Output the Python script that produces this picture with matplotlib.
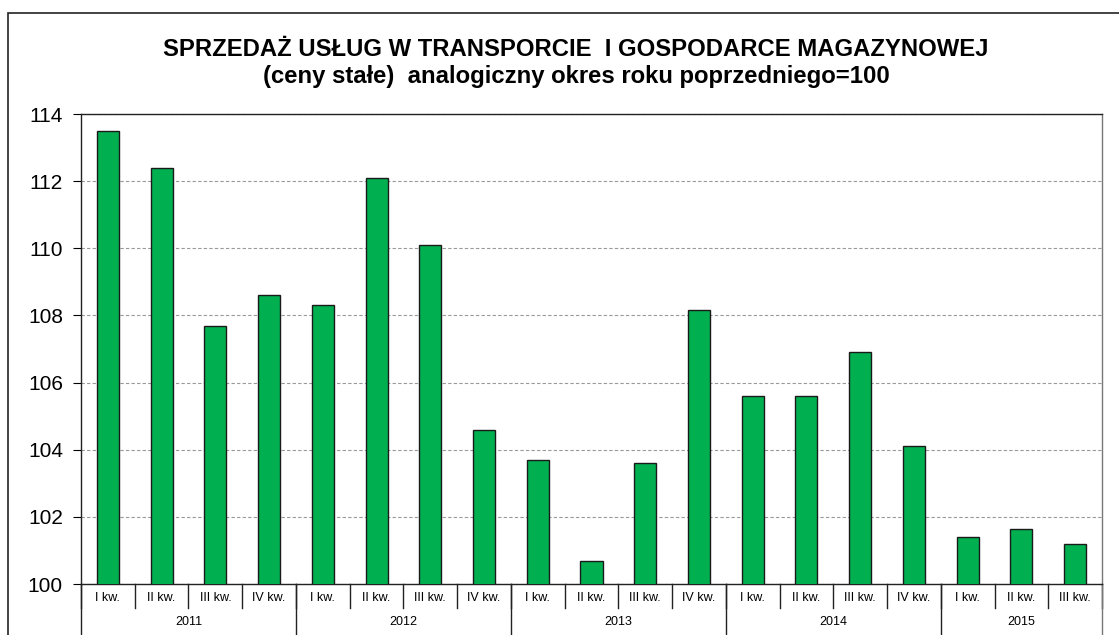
import matplotlib.pyplot as plt
import matplotlib.transforms as mtransforms
from matplotlib.patches import Rectangle

plt.rcParams['font.family'] = ['Liberation Sans', 'DejaVu Sans']

# data
years = ['2011', '2012', '2013', '2014', '2015']
quarters = ['I kw.', 'II kw.', 'III kw.', 'IV kw.',
            'I kw.', 'II kw.', 'III kw.', 'IV kw.',
            'I kw.', 'II kw.', 'III kw.', 'IV kw.',
            'I kw.', 'II kw.', 'III kw.', 'IV kw.',
            'I kw.', 'II kw.', 'III kw.']
quarters_per_year = [4, 4, 4, 4, 3]
values = [113.5, 112.4, 107.7, 108.6,
          108.3, 112.1, 110.1, 104.6,
          103.7, 100.7, 103.6, 108.15,
          105.6, 105.6, 106.9, 104.1,
          101.4, 101.65, 101.2]

W, H = 1119, 635
fig = plt.figure(figsize=(W / 100, H / 100), dpi=100)
ax = fig.add_axes([81 / W, 1 - 584 / H, (1102 - 81) / W, (584 - 114) / H])

# outer chart frame (runs off the right and bottom of the image)
fig.patches.append(Rectangle((8 / W, -0.05), 1.2, 1 - 13 / H + 0.05,
                             transform=fig.transFigure, fill=False,
                             edgecolor='#222222', linewidth=1.2, zorder=0))

x = list(range(len(values)))
ax.bar(x, values, width=0.41, color='#00B050', edgecolor='#1a1a1a',
       linewidth=1.0, zorder=3, bottom=0)

ax.set_ylim(100, 114)
ax.set_xlim(-0.5, len(values) - 0.5)
ax.set_yticks(range(100, 115, 2))
ax.tick_params(axis='y', labelsize=15, length=6, direction='out', pad=7)
ax.set_xticks([])
ax.yaxis.grid(True, linestyle=(0, (3, 2)), color='#999999', linewidth=0.8)
ax.set_axisbelow(True)
for s in ax.spines.values():
    s.set_linewidth(1.0)
    s.set_color('#222222')
ax.spines['right'].set_color('#777777')

# two-level category axis
trans = mtransforms.blended_transform_factory(ax.transData, ax.transAxes)
for i, q in enumerate(quarters):
    ax.text(i, -0.03, q, transform=trans, ha='center', va='center', fontsize=9)
for i in range(len(values) + 1):
    ax.plot([i - 0.5, i - 0.5], [0, -0.051], transform=trans, color='#222222',
            linewidth=1.0, clip_on=False)

start = 0
for y, n in zip(years, quarters_per_year):
    ax.text(start + (n - 1) / 2, -0.08, y, transform=trans, ha='center',
            va='center', fontsize=9)
    ax.plot([start - 0.5, start - 0.5], [0, -0.12], transform=trans,
            color='#222222', linewidth=1.0, clip_on=False)
    start += n
ax.plot([start - 0.5, start - 0.5], [0, -0.12], transform=trans,
        color='#777777', linewidth=1.0, clip_on=False)

fig.text(576 / W, 1 - 49 / H,
         'SPRZEDAŻ USŁUG W TRANSPORCIE  I GOSPODARCE MAGAZYNOWEJ',
         ha='center', va='center', fontsize=17.2, fontweight='bold')
fig.text(576 / W, 1 - 76 / H,
         '(ceny stałe)  analogiczny okres roku poprzedniego=100',
         ha='center', va='center', fontsize=17.2, fontweight='bold')

fig.savefig('out.png', dpi=100)
